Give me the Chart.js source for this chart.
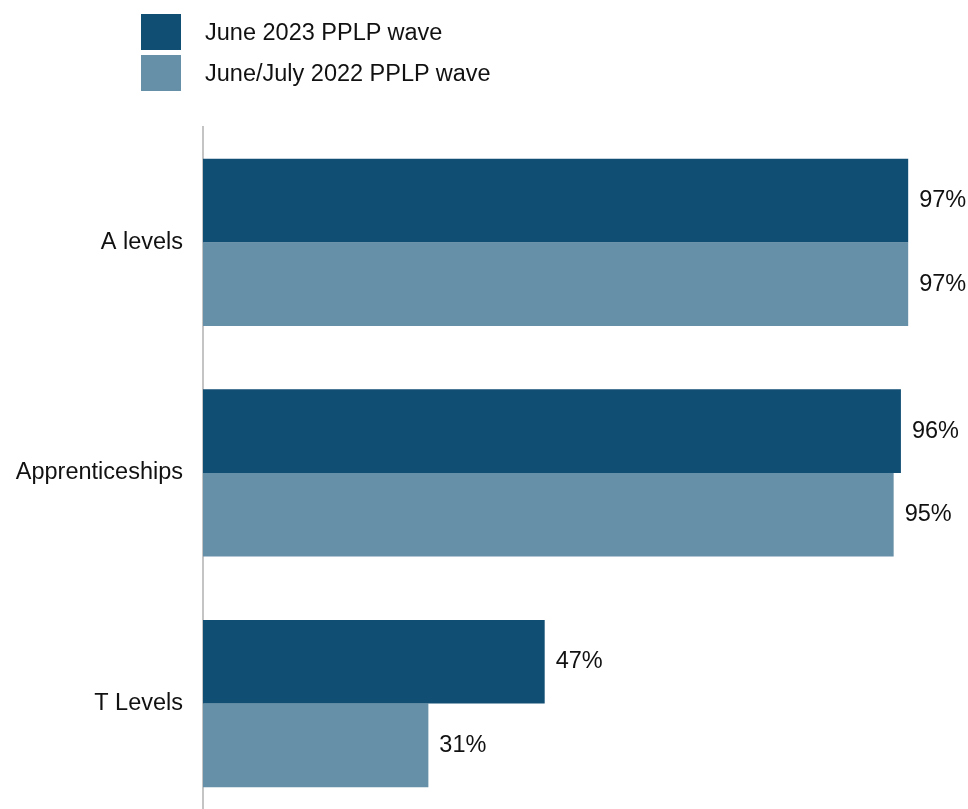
<!DOCTYPE html>
<html>
<head>
<meta charset="utf-8">
<script src="https://cdn.jsdelivr.net/npm/chart.js@4.4.0/dist/chart.umd.min.js"></script>
<style>
  html, body { margin: 0; padding: 0; background: #fff; overflow: hidden; }
  #wrap { position: relative; width: 968px; height: 853px; }
  .legend { position: absolute; left: 141px; top: 14px; font-family: "Liberation Sans", Arial, sans-serif; font-size: 23.5px; color: #111; }
  .legend div { display: flex; align-items: center; height: 36px; margin-bottom: 5px; }
  .legend span.box { width: 40px; height: 36px; margin-right: 24px; }
</style>
</head>
<body>
<div id="wrap">
  <div class="legend" id="legend"></div>
  <canvas id="barChart"></canvas>
</div>
<script>
// categories and values (percent)
const categories = ['A levels', 'Apprenticeships', 'T Levels'];
const wave2023 = [97, 96, 47];
const wave2022 = [97, 95, 31];
const seriesNames = ['June 2023 PPLP wave', 'June/July 2022 PPLP wave'];
const seriesColors = ['#104e73', '#668fa8'];

const FONT = '"Liberation Sans", Arial, sans-serif';

// legend built as plain html above the canvas
const legendEl = document.getElementById('legend');
seriesNames.forEach((name, i) => {
    const row = document.createElement('div');
    row.innerHTML = `<span class="box" style="background:${seriesColors[i]}"></span>${name}`;
    legendEl.appendChild(row);
});

// value labels at the end of each bar
const valueLabels = {
    id: 'valueLabels',
    afterDatasetsDraw(chart) {
        const ctx = chart.ctx;
        ctx.save();
        ctx.font = '23.5px ' + FONT;
        ctx.fillStyle = '#111';
        ctx.textAlign = 'left';
        ctx.textBaseline = 'middle';
        chart.data.datasets.forEach((ds, i) => {
            chart.getDatasetMeta(i).data.forEach((bar, j) => {
                ctx.fillText(ds.data[j] + '%', bar.x + 11, bar.y);
            });
        });
        ctx.restore();
    }
};

const ctx = document.getElementById('barChart').getContext('2d');
const barChart = new Chart(ctx, {
    type: 'bar',
    data: {
        labels: categories,
        datasets: [
            { label: seriesNames[0], data: wave2023, backgroundColor: seriesColors[0] },
            { label: seriesNames[1], data: wave2022, backgroundColor: seriesColors[1] },
        ],
    },
    options: {
        indexAxis: 'y',
        responsive: true,
        maintainAspectRatio: false,
        animation: false,
        devicePixelRatio: 1,
        layout: { padding: { top: 127, right: 38, bottom: 12, left: 0 } },
        datasets: {
            bar: { barPercentage: 1, categoryPercentage: 0.725 },
        },
        scales: {
            x: {
                display: false,
                min: 0,
                max: 100,
            },
            y: {
                grid: { display: false, drawTicks: false },
                border: { display: true, color: '#c4c4c4', width: 2 },
                ticks: {
                    color: '#111',
                    padding: 20,
                    font: { family: FONT, size: 23.5 },
                },
                afterFit(scale) {
                    scale.width = 203;
                },
            },
        },
        plugins: {
            legend: { display: false },
            tooltip: { enabled: false },
        },
    },
    plugins: [valueLabels],
});
</script>
</body>
</html>
